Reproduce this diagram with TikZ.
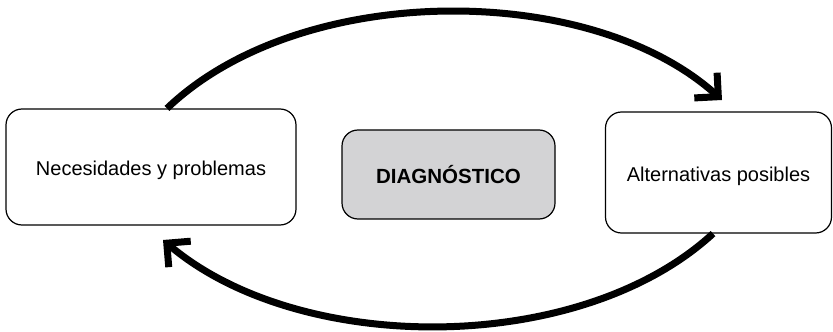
\documentclass[tikz,border=0pt]{standalone}
\usepackage{fontspec}
\setmainfont{Liberation Sans}
\usetikzlibrary{arrows.meta}
\definecolor{boxGrey}{RGB}{211, 211, 213}

\begin{document}
\begin{tikzpicture} [
        x=1pt, y=1pt,
        font=\fontsize{20}{23}\selectfont,
        step box/.style={draw, line width=1.2pt, rounded corners=16pt, align=center, text height=22pt, text depth=4.2pt},
        core box/.style={draw, line width=1.2pt, rounded corners=16pt, align=center, fill=boxGrey, font=\fontsize{20.5}{23}\selectfont\bfseries},
        cycle arrow/.style={line width=7pt, -{Straight Barb[length=17pt, width=34pt, line join=miter, line cap=butt]}},
    ]

    \useasboundingbox (0,0) rectangle (833,332);

    \node[step box, minimum width=290pt, minimum height=116pt] (needs) at (151,165) {Necesidades y problemas};
    \node[core box, minimum width=213pt, minimum height=89pt] (diag) at (448.5,157.5) {DIAGNÓSTICO};
    \node[step box, minimum width=226pt, minimum height=121pt] (alt) at (718.5,159.5) {Alternativas posibles};

    % top arc: needs -> alternatives
    \coordinate (top tip) at (722,232);
    \draw[cycle arrow] (needs.north -| 167,0) .. controls (300,351) and (590,351) .. (top tip);

    % bottom arc: alternatives -> needs
    \coordinate (bottom tip) at (163,92);
    \draw[cycle arrow] (alt.south -| 713,0) .. controls (580,-24) and (300,-24) .. (bottom tip);

\end{tikzpicture}
\end{document}
